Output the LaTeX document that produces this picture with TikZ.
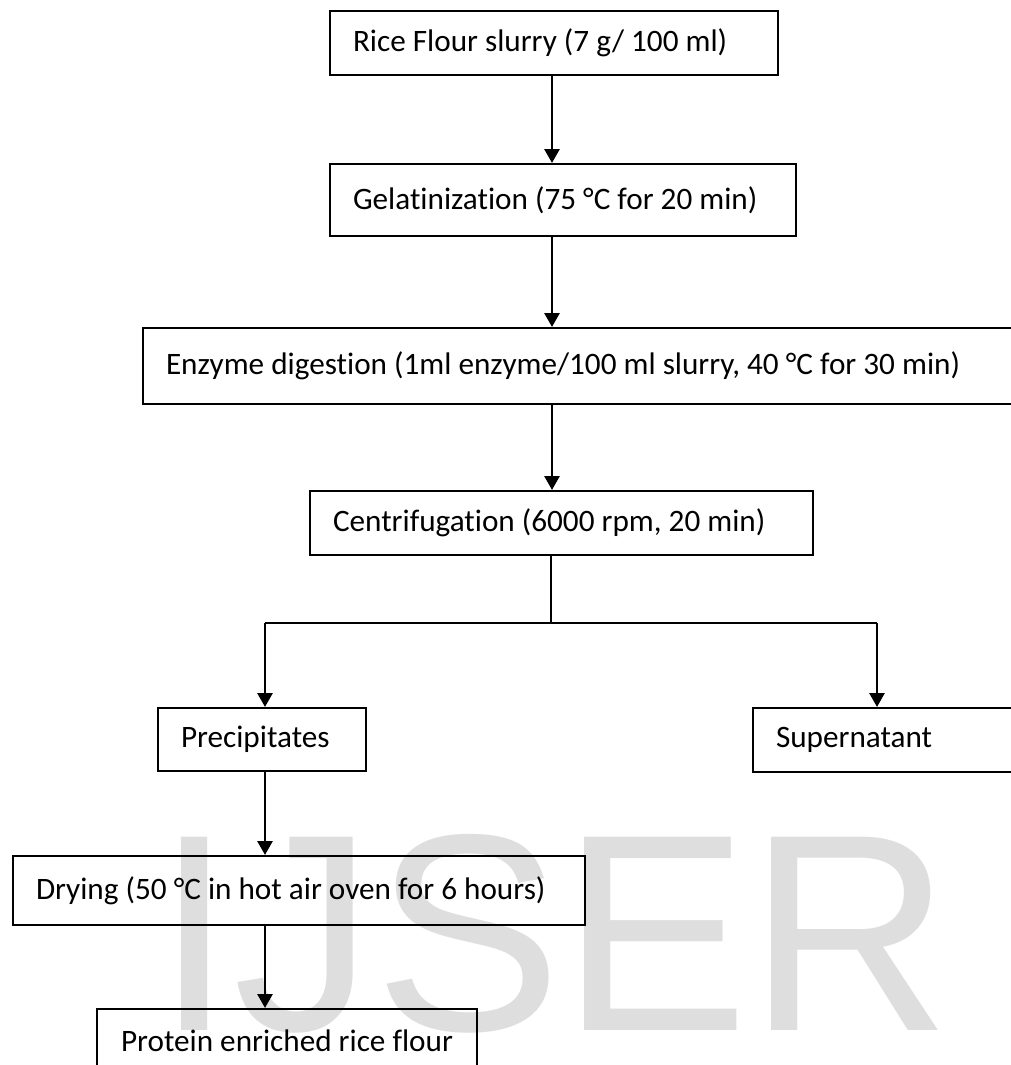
\documentclass[tikz,border=0pt]{standalone}
\usepackage{fontspec}
\setmainfont{Carlito}[Ligatures=CommonOff]
\newfontfamily\markfont{Liberation Sans}
\usetikzlibrary{arrows.meta}

\tikzset{
  stage/.style={draw, line width=1pt, anchor=north west, inner xsep=11.5pt, inner ysep=0pt,
    align=flush left, font=\fontsize{15.6pt}{18pt}\selectfont\frenchspacing},
  flow/.style={line width=1.4pt, ->},
  link/.style={line width=0.9pt},
}

\begin{document}
\begin{tikzpicture}[x=0.5pt, y=-0.5pt, >={Triangle[length=7pt,width=7.5pt]}]
    \useasboundingbox (0,0) rectangle (1011,1065);
    \clip (0,0) rectangle (1011,1065);
    %% Watermark
    \node (mark) [anchor=base west, inner sep=0pt, text=black!13,
      font=\markfont\fontsize{140.5pt}{140pt}\selectfont] at (155,1030) {IJSER};
    %% Steps
    \node[stage, text width=201pt, minimum height=32pt] (rice) at (329,10) {Rice Flour slurry (7 g/ 100 ml)};
    \node[stage, text width=210pt, minimum height=36pt] (gel) at (329,163) {Gelatinization (75 °C for 20 min)};
    \node[stage, text width=416pt, minimum height=38pt] (enz) at (142,327) {Enzyme digestion (1ml enzyme/100 ml slurry, 40 °C for 30 min)};
    \node[stage, text width=228.5pt, minimum height=32pt] (cen) at (309,490) {Centrifugation (6000 rpm, 20 min)};
    \node[stage, text width=81pt, minimum height=31.5pt] (pre) at (157,707) {Precipitates};
    \node[stage, text width=111pt, minimum height=32pt] (sup) at (752,707) {Supernatant};
    \node[stage, text width=263pt, minimum height=34.5pt] (dry) at (12,855) {Drying (50 °C in hot air oven for 6 hours)};
    \node[stage, text width=172pt, inner xsep=9pt, align=flush center, minimum height=32pt] (pro) at (96,1008) {Protein enriched rice flour};
    %% Arrow lines
    \coordinate (spine) at (552,0);
    \coordinate (leftx) at (265,0);
    \coordinate (rightx) at (877,0);
    \coordinate (fork) at (551,623);
    \draw[flow] (rice.south -| spine) -- (gel.north -| spine);
    \draw[flow] (gel.south -| spine) -- (enz.north -| spine);
    \draw[flow] (enz.south -| spine) -- (cen.north -| spine);
    \draw[link] (cen.south -| fork) -- (fork);
    \draw[link] (fork -| leftx) -- (fork -| rightx);
    \draw[flow] (fork -| leftx) -- (pre.north -| leftx);
    \draw[flow] (fork -| rightx) -- (sup.north -| rightx);
    \draw[flow] (pre.south -| leftx) -- (dry.north -| leftx);
    \draw[flow] (dry.south -| leftx) -- (pro.north -| leftx);
\end{tikzpicture}
\end{document}
